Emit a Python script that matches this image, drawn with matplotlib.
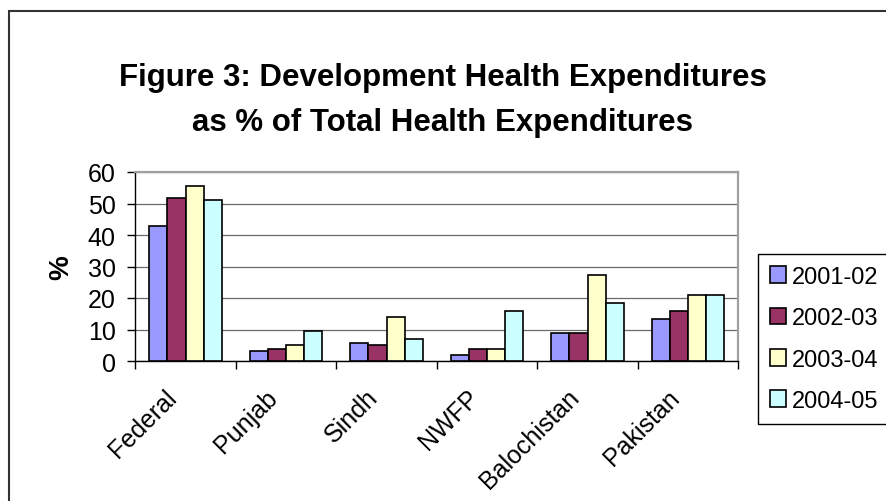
import numpy as np
import matplotlib
matplotlib.use("Agg")
import matplotlib.pyplot as plt
from matplotlib.patches import Rectangle
import matplotlib.transforms as mtransforms

plt.rcParams['font.family'] = ['Liberation Sans', 'DejaVu Sans']

# Regions and yearly development share of health spending (%)
regions = ['Federal', 'Punjab', 'Sindh', 'NWFP', 'Balochistan', 'Pakistan']
years = ['2001-02', '2002-03', '2003-04', '2004-05']
v_2001 = [43.0, 3.2, 5.7, 1.9, 8.9, 13.3]
v_2002 = [51.9, 3.8, 5.0, 3.8, 8.9, 15.8]
v_2003 = [55.7, 5.0, 13.9, 3.8, 27.2, 20.8]
v_2004 = [51.2, 9.4, 7.0, 15.8, 18.3, 20.8]
series = [v_2001, v_2002, v_2003, v_2004]
colors = ['#9999FF', '#993366', '#FFFFCC', '#CCFFFF']

fig = plt.figure(figsize=(8.86, 5.02), dpi=100)
ax = fig.add_axes([135.3 / 886, 1 - 362 / 502, 603 / 886, 189 / 502])

x = np.arange(len(regions))
w = 0.18
for i, (vals, c, lab) in enumerate(zip(series, colors, years)):
    ax.bar(x + (i - 1.5) * w, vals, width=w, color=c, edgecolor='black',
           linewidth=1.2, label=lab, zorder=3)

ax.set_xlim(-0.5, len(regions) - 0.5)
ax.set_ylim(0, 60)
ax.set_yticks(np.arange(0, 61, 10))
ax.yaxis.grid(True, color='#6a6a6a', linewidth=0.9, zorder=0)
ax.set_axisbelow(True)

# category labels at centres, tick marks between groups
ax.set_xticks(x)
ax.set_xticks(np.arange(-0.5, len(regions), 1), minor=True)
ax.tick_params(axis='x', which='major', length=0, pad=17, labelsize=18)
ax.tick_params(axis='x', which='minor', length=6, width=1, direction='out')
ax.set_xticklabels(regions, rotation=45, ha='right', va='top')
shift = mtransforms.ScaledTranslation(-4 / 100, 0, fig.dpi_scale_trans)
for lbl in ax.get_xticklabels():
    lbl.set_transform(lbl.get_transform() + shift)

ax.tick_params(axis='y', length=6, width=1, direction='out', pad=8, labelsize=18)

for side in ['top', 'right']:
    ax.spines[side].set_color('#a0a0a0')
    ax.spines[side].set_linewidth(1.6)
for side in ['left', 'bottom']:
    ax.spines[side].set_color('black')
    ax.spines[side].set_linewidth(1.0)

ax.set_ylabel('%', fontsize=20, fontweight='bold', labelpad=10)

fig.text(0.5, 1 - 78 / 502, 'Figure 3: Development Health Expenditures',
         ha='center', va='center', fontsize=22.5, fontweight='bold')
fig.text(0.5, 1 - 123 / 502, 'as % of Total Health Expenditures',
         ha='center', va='center', fontsize=22.5, fontweight='bold')

leg = ax.legend(loc='upper left', bbox_to_anchor=(758 / 886, 1 - 255 / 502),
                bbox_transform=fig.transFigure, borderaxespad=0, fontsize=17,
                handlelength=0.7, handleheight=0.7, handletextpad=0.25,
                labelspacing=0.82, borderpad=0.5, fancybox=False,
                framealpha=1, edgecolor='black')
leg.get_frame().set_linewidth(1.0)

# outer chart frame
fig.patches.append(Rectangle((9 / 886, -0.1), 1.2, 1.1 - 12 / 502,
                             transform=fig.transFigure, fill=False,
                             edgecolor='#333333', linewidth=1.5))

fig.savefig('out.png', dpi=100)
